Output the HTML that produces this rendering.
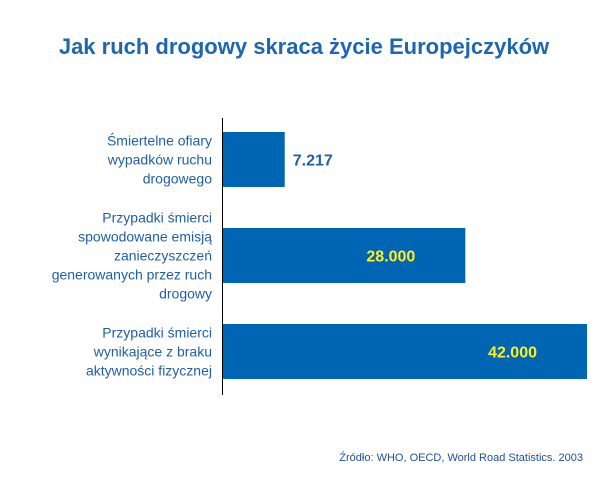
<!DOCTYPE html>
<html><head><meta charset="utf-8">
<style>
body{margin:0;background:#fff;}
svg{display:block;font-family:"Liberation Sans",sans-serif;}
</style></head>
<body>
<svg width="606" height="486" viewBox="0 0 606 486">
<text x="304" y="54" text-anchor="middle" font-size="22" font-weight="bold" fill="#1f66b0">Jak ruch drogowy skraca życie Europejczyków</text>
<g id="bars"></g>
<line x1="222.5" y1="118" x2="222.5" y2="395" stroke="#000" stroke-width="1"/>
<text x="583" y="461" text-anchor="end" font-size="11" fill="#1f4f9a">Źródło: WHO, OECD, World Road Statistics. 2003</text>
</svg>
<script>
const categories=[["Śmiertelne ofiary","wypadków ruchu","drogowego"],["Przypadki śmierci","spowodowane emisją","zanieczyszczeń","generowanych przez ruch","drogowy"],["Przypadki śmierci","wynikające z braku","aktywności fizycznej"]];
const values=[7217,28000,42000];
const valueLabels=["7.217","28.000","42.000"];
const NS="http://www.w3.org/2000/svg";
const g=document.getElementById("bars");
const x0=222,maxW=365,maxV=42000;
const xScale=v=>x0+v/maxV*maxW;
const barH=55;
function yScale(i){return 132+i*96;}
values.forEach((v,i)=>{
  const y=yScale(i);
  const r=document.createElementNS(NS,"rect");
  
  
  r.setAttribute("x",x0);r.setAttribute("y",y);
  r.setAttribute("width",xScale(v)-x0);r.setAttribute("height",barH);
  r.setAttribute("fill","#0066b3");g.appendChild(r);
  const t=document.createElementNS(NS,"text");
  
  
  const end=xScale(v);
  const inside=end-x0>120;
  t.setAttribute("x",inside?end-50:end+8);
  t.setAttribute("text-anchor",inside?"end":"start");
  t.setAttribute("y",y+barH/2+6);
  t.setAttribute("font-size","16");t.setAttribute("font-weight","bold");
  t.setAttribute("fill",inside?"#ffee22":"#1f5fa6");
  t.textContent=valueLabels[i];g.appendChild(t);
  const lines=categories[i];const lh=19;
  const cy=y+barH/2;const start=cy-(lines.length-1)*lh/2;
  lines.forEach((s,j)=>{
    const c=document.createElementNS(NS,"text");
    
    
    c.setAttribute("x",212);c.setAttribute("y",start+j*lh+5);
    c.setAttribute("text-anchor","end");c.setAttribute("font-size","14");
    c.setAttribute("fill","#1f5fa6");c.textContent=s;g.appendChild(c);
  });
});
</script>
</body></html>
